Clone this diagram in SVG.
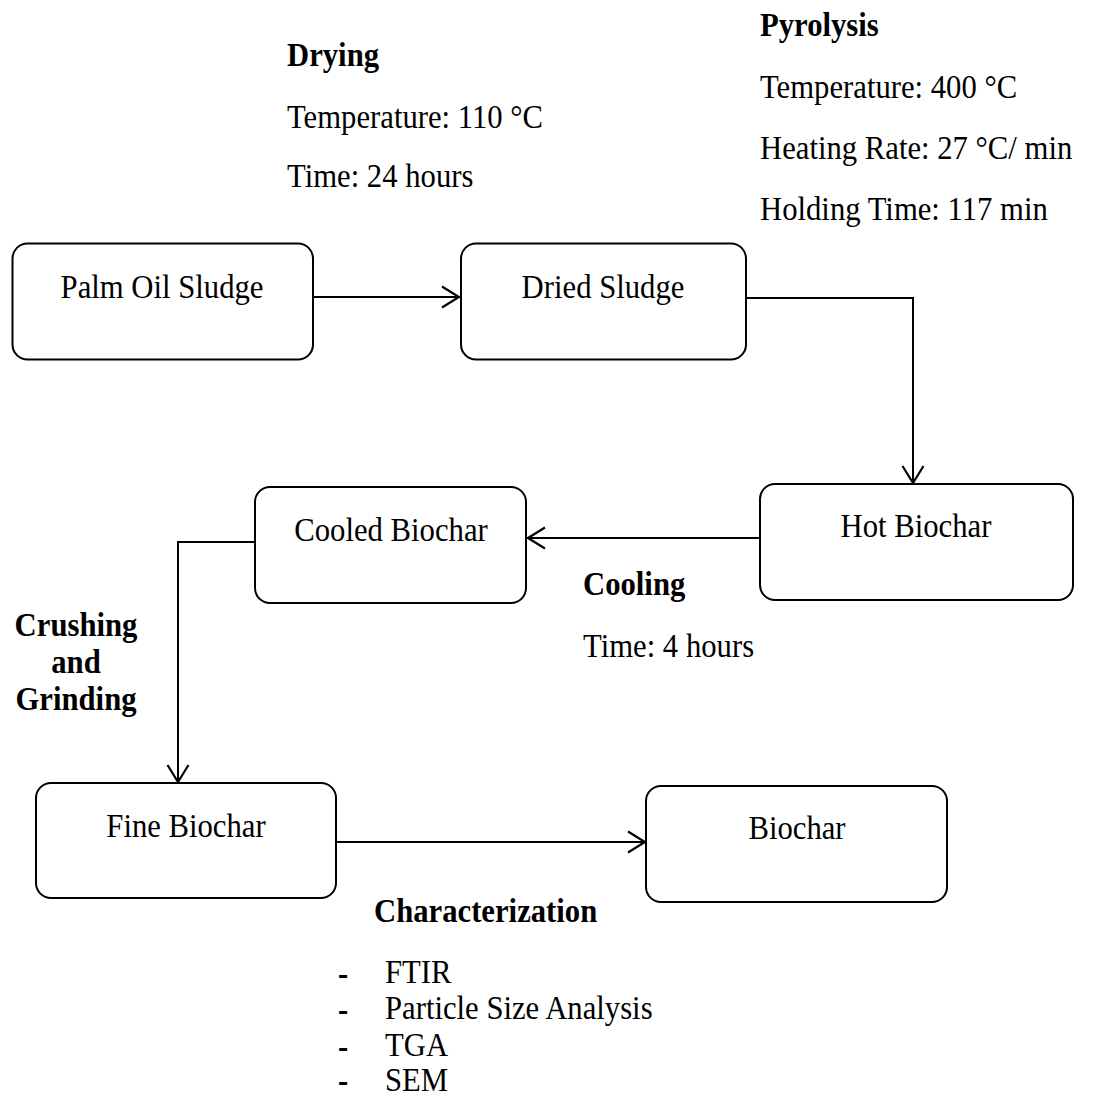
<svg xmlns="http://www.w3.org/2000/svg" width="1094" height="1099" viewBox="0 0 1094 1099">
<defs>
<style>
text{font-family:"Liberation Serif","Times New Roman",serif;font-size:33px;fill:#000}
.b{font-weight:bold}
.c{text-anchor:middle}
.box{fill:#fff;stroke:#000;stroke-width:2}
.ln{fill:none;stroke:#000;stroke-width:2}
</style>
<marker id="ah" viewBox="0 0 20 24" refX="18.5" refY="12" markerWidth="20" markerHeight="24" markerUnits="userSpaceOnUse" orient="auto">
<path d="M1.5,1.5 L18.5,12 L1.5,22.5" fill="none" stroke="#000" stroke-width="2.2"/>
</marker>
</defs>
<rect width="1094" height="1099" fill="#fff"/>

<g id="labels">
<text class="b" transform="translate(287 66) scale(0.93 1)">Drying</text>
<text transform="translate(287 128) scale(0.93 1)">Temperature: 110 °C</text>
<text transform="translate(287 187) scale(0.93 1)">Time: 24 hours</text>
<text class="b" transform="translate(760 36) scale(0.93 1)">Pyrolysis</text>
<text transform="translate(760 98) scale(0.93 1)">Temperature: 400 °C</text>
<text transform="translate(760 159) scale(0.93 1)">Heating Rate: 27 °C/ min</text>
<text transform="translate(760 220) scale(0.93 1)">Holding Time: 117 min</text>
<text class="b" transform="translate(583 595) scale(0.93 1)">Cooling</text>
<text transform="translate(583 657) scale(0.93 1)">Time: 4 hours</text>
<text class="b c" transform="translate(76 636) scale(0.93 1)">Crushing</text>
<text class="b c" transform="translate(76 673) scale(0.93 1)">and</text>
<text class="b c" transform="translate(76 710) scale(0.93 1)">Grinding</text>
<text class="b" transform="translate(374 922) scale(0.93 1)">Characterization</text>
<text class="b" transform="translate(338 985) scale(0.93 1)">-</text>
<text transform="translate(385 983) scale(0.93 1)">FTIR</text>
<text class="b" transform="translate(338 1021) scale(0.93 1)">-</text>
<text transform="translate(385 1019) scale(0.93 1)">Particle Size Analysis</text>
<text class="b" transform="translate(338 1058) scale(0.93 1)">-</text>
<text transform="translate(385 1056) scale(0.93 1)">TGA</text>
<text class="b" transform="translate(338 1092) scale(0.93 1)">-</text>
<text transform="translate(385 1091) scale(0.93 1)">SEM</text>
</g>

<g id="connectors">
<line class="ln" x1="313" y1="297" x2="459" y2="297" marker-end="url(#ah)"/>
<polyline class="ln" points="746,298 913,298 913,483" marker-end="url(#ah)"/>
<line class="ln" x1="760" y1="538" x2="528" y2="538" marker-end="url(#ah)"/>
<polyline class="ln" points="255,542 178,542 178,782" marker-end="url(#ah)"/>
<line class="ln" x1="336" y1="842" x2="645" y2="842" marker-end="url(#ah)"/>
</g>

<g id="node-palm-oil-sludge">
<rect class="box" x="12.5" y="243.5" width="300.5" height="116" rx="15"/>
<text class="c" transform="translate(162 298) scale(0.93 1)">Palm Oil Sludge</text>
</g>
<g id="node-dried-sludge">
<rect class="box" x="461" y="243.5" width="285" height="116" rx="15"/>
<text class="c" transform="translate(603 298) scale(0.93 1)">Dried Sludge</text>
</g>
<g id="node-hot-biochar">
<rect class="box" x="760" y="484" width="313" height="116" rx="15"/>
<text class="c" transform="translate(916 537) scale(0.93 1)">Hot Biochar</text>
</g>
<g id="node-cooled-biochar">
<rect class="box" x="255" y="487" width="271" height="116" rx="15"/>
<text class="c" transform="translate(391 541) scale(0.93 1)">Cooled Biochar</text>
</g>
<g id="node-fine-biochar">
<rect class="box" x="36" y="783" width="300" height="115" rx="15"/>
<text class="c" transform="translate(186 837) scale(0.93 1)">Fine Biochar</text>
</g>
<g id="node-biochar">
<rect class="box" x="646" y="786" width="301" height="116" rx="15"/>
<text class="c" transform="translate(797 839) scale(0.93 1)">Biochar</text>
</g>
</svg>
